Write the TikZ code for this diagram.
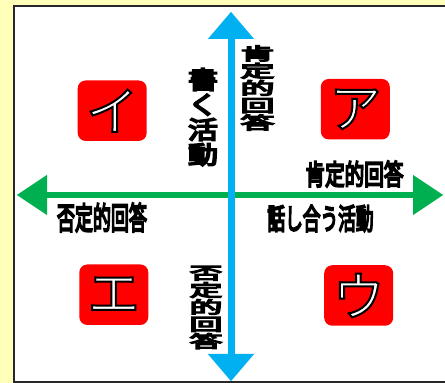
\documentclass[tikz,border=0pt]{standalone}
\usepackage{fontspec}
\usetikzlibrary{arrows.meta}
\newfontfamily\jp{Noto Sans CJK JP}
\newfontfamily\jpb{Noto Sans CJK JP}[FakeBold=7]
\definecolor{bgy}{RGB}{255,255,185}
\definecolor{ared}{RGB}{255,0,0}
\definecolor{ablue}{RGB}{0,176,240}
\definecolor{agreen}{RGB}{0,176,80}
\definecolor{panelc}{RGB}{40,40,40}
\begin{document}
\begin{tikzpicture}[x=1pt,y=1pt,
  redbox/.style={fill=ared, rounded corners=8pt, inner sep=0pt, minimum width=69pt, minimum height=60.5pt},
  kanafont/.style={font=\jp\fontsize{52}{52}\selectfont, inner sep=0pt, text=white},
  lab/.style={inner sep=0pt, align=center, text=black},
  vaxis/.style={line width=7pt, ablue, {Triangle[width=46pt,length=27pt,line width=0.01pt]}-{Triangle[width=46pt,length=27pt,line width=0.01pt]}},
  haxis/.style={line width=6.5pt, agreen, {Triangle[width=40pt,length=30pt,line width=0.01pt]}-{Triangle[width=40pt,length=30pt,line width=0.01pt]}}
]
\newcommand\outlined[1]{\special{pdf:literal direct 0 G 2 w 2 Tr}#1\special{pdf:literal direct 0 Tr}}
\useasboundingbox (0,0) rectangle (445,383);
\fill[bgy] (0,0) rectangle (445,383);
\draw[fill=white, draw=panelc, line width=2pt] (14,1) rectangle (450,376.5);
% red boxes
\node[redbox] (bI) at (112.2,272.3) {};
\node[redbox] (bA) at (355.3,273.8) {};
\node[redbox] (bE) at (113.8,88.3) {};
\node[redbox] (bU) at (358.7,87.5) {};
\node[kanafont] (kI) at (bI.center) {\outlined{イ}};
\node[kanafont] (kA) at (bA.center) {\outlined{ア}};
\node[kanafont] (kE) at (bE.center) {\outlined{エ}};
\node[kanafont] (kU) at (bU.center) {\outlined{ウ}};
% axes
\coordinate (vt) at (231,371);
\coordinate (vb) at (231,2);
\coordinate (hl) at (17,188);
\coordinate (hr) at (443,188);
\draw[haxis] (hl) -- (hr);
\draw[vaxis] (vb) -- (vt);
% labels
\node[lab, font=\jpb\fontsize{17}{17.3}\selectfont, xscale=2.0, transform shape] (vpos) at (257.5,295) {肯\\定\\的\\回\\答};
\node[lab, font=\jpb\fontsize{24.5}{25}\selectfont, xscale=1.22, transform shape] (write) at (203,266) {書\\く\\活\\動};
\node[lab, font=\jpb\fontsize{16.8}{17.1}\selectfont, xscale=1.95, transform shape] (vneg) at (206,75.5) {否\\定\\的\\回\\答};
\node[lab, font=\jpb\fontsize{28}{28}\selectfont, xscale=0.7, transform shape] (hpos) at (354.5,209) {肯定的回答};
\node[lab, font=\jpb\fontsize{31}{31}\selectfont, xscale=0.58, transform shape] (hneg) at (102,165.5) {否定的回答};
\node[lab, font=\jpb\fontsize{29}{29}\selectfont, xscale=0.61, transform shape] (talk) at (320.5,164.5) {話し合う活動};
\end{tikzpicture}
\end{document}
